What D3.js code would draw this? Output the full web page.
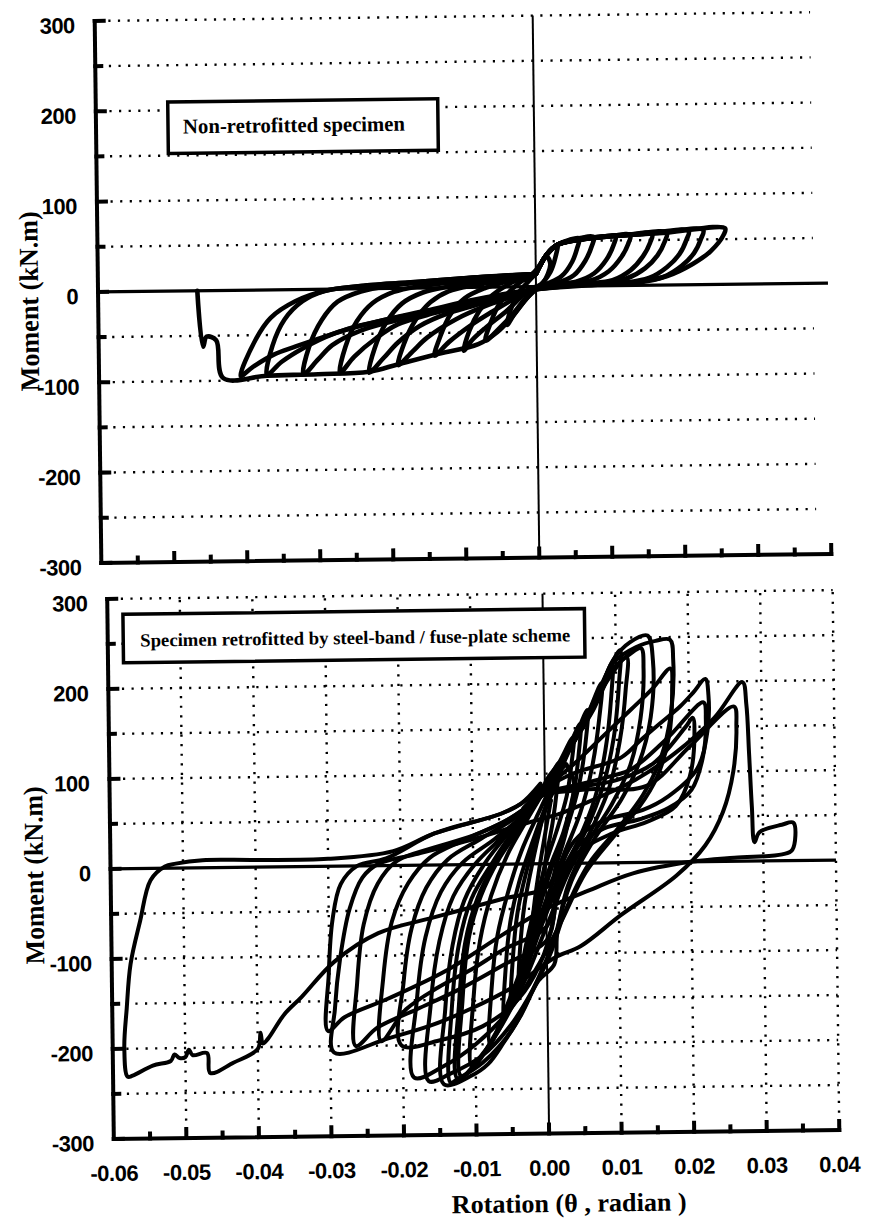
<!DOCTYPE html>
<html><head><meta charset="utf-8">
<script src="https://cdn.jsdelivr.net/npm/d3@7"></script>
<style>html,body{margin:0;padding:0;background:#fff}</style>
</head><body>
<svg id="c" width="870" height="1226" xmlns="http://www.w3.org/2000/svg"></svg>
<script>
// ---------- axis / label data ----------
const yTickValues = [300, 200, 100, 0, -100, -200, -300];
const yTickLabels = ["300", "200", "100", "0", "-100", "-200", "-300"];
const yMinorTicks = [250, 150, 50, -50, -150, -250];
const yGridValues = [300, 250, 200, 150, 100, 50, -50, -100, -150, -200, -250];
const xTickValues = [-0.06, -0.05, -0.04, -0.03, -0.02, -0.01, 0, 0.01, 0.02, 0.03, 0.04];
const xTickLabels = ["-0.06", "-0.05", "-0.04", "-0.03", "-0.02", "-0.01", "0.00", "0.01", "0.02", "0.03", "0.04"];
const xMinorTicks = [-0.055, -0.045, -0.035, -0.025, -0.015, -0.005, 0.005, 0.015, 0.025, 0.035];
const xGridValues = [-0.05, -0.04, -0.03, -0.02, -0.01, 0.01, 0.02, 0.03, 0.04];
const topTitle = "Non-retrofitted specimen";
const bottomTitle = "Specimen retrofitted by steel-band / fuse-plate scheme";
const yAxisTitle = "Moment (kN.m)";
const xAxisTitle = "Rotation (\u03B8 , radian )";

// ---------- data: [rotation (rad), moment (kN.m)] ----------
const nonRetrofittedLoops = [
 [[-0.0015,8],[0,18],[0.0015,35],[0.003,46],[0.0027,32],[0.002,16],[0.001,5],[0,-2],[-0.0015,-15],[-0.003,-30],[-0.004,-42],[-0.0035,-25],[-0.0025,-8],[-0.001,6],[0,14]],
 [[0,14],[0.0015,35],[0.003,46],[0.0045,51],[0.006,53],[0.0057,42],[0.005,27],[0.0035,11],[0.0015,3],[0,-2],[-0.0015,-13],[-0.003,-28],[-0.005,-45],[-0.007,-59],[-0.0062,-38],[-0.005,-18],[-0.0035,-4],[-0.002,6],[0,14]],
 [[0,14],[0.0015,35],[0.003,46],[0.0055,52],[0.008,54],[0.0077,44],[0.0068,28],[0.0052,12],[0.003,4],[0,0],[-0.002,-11],[-0.004,-26],[-0.007,-45],[-0.0088,-58],[-0.01,-70],[-0.0092,-48],[-0.0078,-26],[-0.006,-9],[-0.004,2],[-0.002,9],[0,14]],
 [[0,14],[0.0015,35],[0.003,46],[0.006,52.5],[0.009,54],[0.011,55],[0.0107,45],[0.0097,29],[0.008,14],[0.0055,5],[0.002,2],[-0.001,-4],[-0.003,-13],[-0.006,-27],[-0.009,-42],[-0.012,-60],[-0.014,-75],[-0.0132,-54],[-0.0118,-30],[-0.0098,-12],[-0.007,-1],[-0.004,6],[0,14]],
 [[0,14],[0.0015,35],[0.003,46],[0.007,53],[0.01,54.5],[0.013,56],[0.0127,46],[0.0117,31],[0.01,16],[0.0075,6],[0.004,3],[0,-1],[-0.003,-10],[-0.007,-21],[-0.011,-35],[-0.015,-55],[-0.017,-70],[-0.019,-85],[-0.0182,-62],[-0.0166,-36],[-0.0145,-16],[-0.012,-4],[-0.008,3],[-0.004,8],[0,14]],
 [[0,14],[0.0015,35],[0.003,46],[0.008,53.5],[0.012,55.5],[0.016,57],[0.0157,47],[0.0147,32],[0.013,17],[0.0105,6],[0.007,3],[0.002,1],[-0.002,-6],[-0.007,-17],[-0.012,-28],[-0.016,-42],[-0.019,-60],[-0.021,-77],[-0.023,-93],[-0.0222,-66],[-0.0206,-38],[-0.0184,-17],[-0.0155,-5],[-0.012,1],[-0.007,6],[-0.003,11],[0,14]],
 [[0,14],[0.0015,35],[0.003,46],[0.008,53.5],[0.013,56],[0.018,58],[0.0177,48],[0.0167,33],[0.015,19],[0.0125,8],[0.009,3],[0.003,1],[-0.002,-6],[-0.008,-17],[-0.014,-28],[-0.019,-40],[-0.022,-55],[-0.025,-75],[-0.027,-93],[-0.0262,-64],[-0.0246,-36],[-0.0224,-16],[-0.0195,-4],[-0.016,2],[-0.01,7],[-0.005,11],[0,14]],
 [[0,14],[0.0015,35],[0.003,46],[0.009,54],[0.015,57],[0.021,59.5],[0.0207,50],[0.0197,34],[0.018,20],[0.0155,8],[0.012,3],[0.006,1],[0,-3],[-0.006,-12],[-0.013,-24],[-0.019,-35],[-0.024,-46],[-0.028,-62],[-0.03,-78],[-0.032,-94],[-0.0312,-64],[-0.0294,-34],[-0.0272,-14],[-0.024,-3],[-0.02,3],[-0.013,8],[-0.006,12],[0,14]],
 [[0,14],[0.0015,35],[0.003,46],[0.01,54.5],[0.017,58],[0.023,60.5],[0.0227,51],[0.0217,35],[0.02,21],[0.0175,9],[0.014,3],[0.008,1],[0,-3],[-0.008,-13],[-0.015,-25],[-0.022,-37],[-0.028,-50],[-0.032,-65],[-0.035,-80],[-0.037,-94],[-0.0362,-62],[-0.0345,-33],[-0.032,-13],[-0.029,-2],[-0.024,3],[-0.016,7],[-0.008,11],[0,14]],
 [[0,14],[0.0015,35],[0.003,46],[0.01,54.5],[0.018,58],[0.026,62],[0.0258,55],[0.024,37],[0.0215,23],[0.018,10],[0.014,4],[0.008,2],[0,-3],[-0.0105,-19],[-0.015,-27],[-0.0196,-33],[-0.0243,-41],[-0.0288,-52],[-0.033,-63],[-0.0361,-72],[-0.0389,-85],[-0.0406,-95],[-0.0385,-55],[-0.0364,-31],[-0.033,-13],[-0.029,-2],[-0.024,3],[-0.016,7],[-0.008,11],[0,14]],
 [[0,14],[0.0015,33],[0.002,25],[0.001,4],[0,-3],[-0.0012,-12],[-0.0033,-33],[-0.0054,-50],[-0.008,-63],[-0.014,-74],[-0.019,-84],[-0.023,-92],[-0.03,-94],[-0.037,-95],[-0.043,-97],[-0.0439,-55],[-0.0452,-51],[-0.0457,-62],[-0.0464,0]]
];

const retrofittedLoops = [
 [[-0.003,62],[0,88],[0.001,100],[0.002,112],[0.0017,85],[0.001,45],[0,5],[-0.001,-40],[-0.002,-90],[-0.0018,-55],[-0.001,-10],[0,35],[0.0008,70]],
 [[0.0008,70],[0,88],[0.002,112],[0.004,140],[0.0037,110],[0.003,75],[0.0015,35],[0,0],[-0.0015,-45],[-0.003,-95],[-0.004,-140],[-0.0037,-95],[-0.003,-45],[-0.002,-5],[-0.001,30],[0,60],[0.0015,85]],
 [[0.0015,85],[0.003,120],[0.004,140],[0.005,155],[0.0047,120],[0.004,80],[0.0025,35],[0.0005,-5],[-0.0015,-55],[-0.0035,-115],[-0.005,-155],[-0.0047,-105],[-0.004,-55],[-0.0028,-12],[-0.0012,30],[0.0005,70]],
 [[0.0005,70],[0.003,120],[0.0045,145],[0.006,170],[0.0057,135],[0.0048,90],[0.0032,45],[0.001,0],[-0.001,-50],[-0.003,-105],[-0.005,-150],[-0.006,-170],[-0.0057,-115],[-0.005,-65],[-0.0037,-20],[-0.002,20],[0,62],[0.002,100]],
 [[0.002,100],[0.004,135],[0.006,165],[0.008,200],[0.0076,160],[0.0065,105],[0.0048,55],[0.0025,10],[0,-40],[-0.003,-105],[-0.006,-165],[-0.008,-200],[-0.0077,-140],[-0.0068,-80],[-0.0052,-30],[-0.0033,15],[-0.001,55],[0.0005,80]],
 [[0.0005,80],[0.003,120],[0.006,160],[0.0082,200],[0.0095,222],[0.0093,185],[0.0084,125],[0.0068,70],[0.0045,25],[0.0015,-20],[-0.001,-70],[-0.004,-135],[-0.007,-185],[-0.0105,-225],[-0.0102,-150],[-0.0092,-85],[-0.0076,-35],[-0.0053,10],[-0.0028,45],[0,82]],
 [[0,82],[0.003,122],[0.006,165],[0.009,215],[0.0106,236],[0.0104,200],[0.0096,140],[0.008,85],[0.0055,35],[0.0025,-10],[-0.0005,-65],[-0.004,-140],[-0.008,-200],[-0.012,-235],[-0.0117,-150],[-0.0107,-80],[-0.009,-35],[-0.0065,5],[-0.0035,40],[0,83]],
 [[0,83],[0.003,120],[0.006,162],[0.009,205],[0.0115,228],[0.0113,192],[0.0104,135],[0.0088,82],[0.0062,35],[0.003,-12],[0,-70],[-0.004,-145],[-0.0085,-205],[-0.0125,-238],[-0.0122,-155],[-0.0112,-85],[-0.0095,-38],[-0.007,2],[-0.004,38],[0,83]],
 [[0,83],[0.003,122],[0.0068,172],[0.0096,225],[0.012,245],[0.0144,252],[0.0151,225],[0.0147,161],[0.013,110],[0.0105,70],[0.007,30],[0.0035,-20],[0.0015,-75],[0.001,-112],[-0.0012,-130],[-0.0036,-167],[-0.006,-197],[-0.0083,-222],[-0.0107,-235],[-0.0144,-244],[-0.0141,-160],[-0.013,-90],[-0.0113,-40],[-0.0085,0],[-0.005,35],[-0.002,60],[0,84]],
 [[0,84],[0.003,122],[0.0068,170],[0.0096,215],[0.012,232],[0.0135,238],[0.0138,215],[0.0133,160],[0.0118,108],[0.0092,65],[0.006,25],[0.003,-25],[0.001,-85],[-0.002,-140],[-0.005,-185],[-0.009,-220],[-0.0125,-238],[-0.0135,-242],[-0.0132,-160],[-0.0121,-88],[-0.0103,-38],[-0.0075,0],[-0.0045,35],[-0.002,58],[0,84]],
 [[0,84],[0.003,123],[0.0068,172],[0.0096,222],[0.013,240],[0.0155,246],[0.0175,247],[0.0179,225],[0.0175,165],[0.016,115],[0.0135,75],[0.01,38],[0.006,0],[0.0025,-55],[0.0005,-100],[-0.002,-140],[-0.005,-178],[-0.009,-212],[-0.0135,-232],[-0.0165,-240],[-0.0161,-155],[-0.0148,-85],[-0.0128,-35],[-0.0098,0],[-0.006,30],[-0.003,55],[0,84]],
 [[0,84],[0.004,110],[0.008,140],[0.012,170],[0.015,193],[0.0175,215],[0.0177,190],[0.0172,140],[0.0155,95],[0.013,62],[0.0095,30],[0.0055,-10],[0.002,-65],[-0.001,-110],[-0.005,-160],[-0.01,-200],[-0.0145,-224],[-0.0185,-236],[-0.018,-150],[-0.0167,-80],[-0.0145,-30],[-0.0115,2],[-0.007,28],[-0.003,55],[0,84]],
 [[0,84],[0.004,100],[0.0106,117],[0.0133,136],[0.0161,155],[0.0188,173],[0.0206,188],[0.0223,203],[0.0227,185],[0.0225,145],[0.021,103],[0.017,73],[0.0134,58],[0.008,47],[0.004,25],[0.0015,-20],[0.001,-60],[-0.001,-112],[-0.004,-150],[-0.009,-180],[-0.015,-195],[-0.0202,-200],[-0.0198,-130],[-0.0186,-70],[-0.0165,-25],[-0.0135,6],[-0.009,28],[-0.004,52],[0,80]],
 [[0,80],[0.005,88],[0.009,96],[0.012,104],[0.017,138],[0.022,177],[0.0223,158],[0.0218,115],[0.0202,80],[0.017,60],[0.013,48],[0.008,38],[0.004,15],[0.0015,-35],[0,-70],[-0.006,-95],[-0.0105,-117],[-0.015,-136],[-0.0195,-160],[-0.023,-195],[-0.0226,-125],[-0.0213,-62],[-0.019,-20],[-0.016,8],[-0.011,28],[-0.005,50],[0,78]],
 [[0,78],[0.005,85],[0.01,92],[0.015,110],[0.0195,150],[0.0205,160],[0.0207,140],[0.02,95],[0.018,62],[0.014,45],[0.009,32],[0.004,8],[0.0015,-40],[0,-85],[-0.006,-112],[-0.012,-138],[-0.018,-160],[-0.0235,-180],[-0.0265,-200],[-0.0262,-130],[-0.0252,-65],[-0.0232,-20],[-0.0205,5],[-0.016,18],[-0.01,32],[-0.005,50],[0,78]],
 [[0,78],[0.006,82],[0.014,85],[0.02,128],[0.0262,172],[0.0265,150],[0.026,100],[0.0245,55],[0.022,18],[0.018,-15],[0.0103,-58],[0.0047,-92],[0.001,-105],[-0.005,-138],[-0.0105,-160],[-0.016,-178],[-0.022,-192],[-0.0295,-207],[-0.0293,-158],[-0.0285,-102],[-0.0271,-47],[-0.0253,-13],[-0.0231,2],[-0.018,12],[-0.01,28],[-0.004,42],[0.002,55]],
 [[0.002,55],[0.0125,92],[0.018,121],[0.0235,160],[0.0274,199],[0.0279,175],[0.0282,120],[0.0285,60],[0.0288,21],[0.0295,32],[0.0326,40],[0.0342,42],[0.034,12],[0.0326,7],[0.026,4],[0.02,0],[0.012,-12],[0.006,-30],[0,-50],[-0.006,-78],[-0.014,-118],[-0.022,-148],[-0.028,-168],[-0.0303,-183],[-0.0301,-120],[-0.0295,-60],[-0.0283,-20],[-0.026,0],[-0.022,8],[-0.0153,35],[-0.0061,56],[-0.0033,67],[0,88],[0.003,110]],
 [[0.003,110],[0.004,90],[0.003,40],[0.0015,0],[0.0003,-25],[-0.0062,-39],[-0.0154,-58],[-0.0232,-75],[-0.0293,-106],[-0.0339,-145],[-0.0363,-164],[-0.0386,-191],[-0.0393,-196],[-0.0396,-184],[-0.04,-202],[-0.0434,-217],[-0.0466,-228],[-0.047,-206],[-0.049,-208],[-0.0495,-202],[-0.05,-210],[-0.0508,-211],[-0.0515,-207],[-0.052,-214],[-0.0545,-219],[-0.0573,-230],[-0.058,-231],[-0.0584,-199],[-0.058,-155],[-0.0574,-106],[-0.056,-58],[-0.0545,-13],[-0.0525,2],[-0.051,5],[-0.0473,8.5],[-0.04,8],[-0.03,8.3],[-0.021,16],[-0.0153,35],[-0.0061,56],[-0.0033,67],[-0.0006,89]]
];

// ---------- drawing ----------
const svg = d3.select("#c");
const serif = "'Liberation Serif','Times New Roman',serif";
const sans = "'Liberation Sans',Arial,sans-serif";

function drawPanel(cfg) {
  const x = d3.scaleLinear().domain([-0.06, 0.04]).range(cfg.xr);
  const y = d3.scaleLinear().domain([-300, 300]).range(cfg.yr);
  const g = svg.append("g").attr("transform", `rotate(-0.7 ${cfg.cx} ${cfg.cy})`);
  const x0 = x(-0.06), x1 = x(0.04), yT = y(300), yB = y(-300);
  const dot = sel => sel.attr("stroke", "#000").attr("stroke-width", 2.4).attr("stroke-dasharray", "2.2 7.4").attr("fill", "none");

  // dotted grid
  g.selectAll(null).data(yGridValues).join("line")
    .attr("x1", x0 + 4).attr("x2", x(cfg.gridEnd)).attr("y1", d => y(d)).attr("y2", d => y(d)).call(dot);
  if (cfg.vgrid) {
    g.selectAll(null).data(xGridValues).join("line")
      .attr("x1", d => x(d)).attr("x2", d => x(d)).attr("y1", yT + 2).attr("y2", yB - 2).call(dot);
  }
  // zero lines
  g.append("line").attr("x1", x(0)).attr("x2", x(0)).attr("y1", yT).attr("y2", yB)
    .attr("stroke", "#000").attr("stroke-width", 2);
  g.append("line").attr("x1", x0).attr("x2", x1).attr("y1", y(0)).attr("y2", y(0))
    .attr("stroke", "#000").attr("stroke-width", 3.2);

  // hysteresis curves
  const line = d3.line().x(d => x(d[0])).y(d => y(d[1])).curve(d3.curveCatmullRom.alpha(0.5));
  g.selectAll(null).data(cfg.loops).join("path")
    .attr("d", line).attr("fill", "none").attr("stroke", "#000")
    .attr("stroke-width", cfg.lw).attr("stroke-linejoin", "round").attr("stroke-linecap", "round");

  // axes
  const ax = g.append("g").attr("stroke", "#000").attr("stroke-width", 4).attr("stroke-linecap", "square");
  ax.append("line").attr("x1", x0).attr("x2", x0).attr("y1", yT).attr("y2", yB);
  ax.append("line").attr("x1", x0).attr("x2", x1).attr("y1", yB).attr("y2", yB);
  ax.selectAll(null).data(yTickValues).join("line")
    .attr("x1", x0).attr("x2", x0 + 9).attr("y1", d => y(d)).attr("y2", d => y(d));
  ax.selectAll(null).data(yMinorTicks).join("line")
    .attr("x1", x0).attr("x2", x0 + 6).attr("y1", d => y(d)).attr("y2", d => y(d));
  ax.selectAll(null).data(xTickValues.slice(1)).join("line")
    .attr("x1", d => x(d)).attr("x2", d => x(d)).attr("y1", yB).attr("y2", yB - 9);
  ax.selectAll(null).data(xMinorTicks).join("line")
    .attr("x1", d => x(d)).attr("x2", d => x(d)).attr("y1", yB).attr("y2", yB - 5);

  // y tick labels
  g.selectAll(null).data(yTickValues).join("text")
    .attr("x", x0 - 20).attr("y", d => y(d) + 12).attr("text-anchor", "end")
    .attr("font-family", sans).attr("font-weight", "bold").attr("font-size", 22)
    .attr("letter-spacing", -0.5)
    .text((d, i) => yTickLabels[i]);

  if (cfg.xlabels) {
    g.selectAll(null).data(xTickValues).join("text")
      .attr("x", d => x(d)).attr("y", yB + 42).attr("text-anchor", "middle")
      .attr("font-family", sans).attr("font-weight", "bold").attr("font-size", 22)
      .attr("letter-spacing", -0.5)
      .text((d, i) => xTickLabels[i]);
    g.append("text").attr("x", cfg.xTitle[0]).attr("y", cfg.xTitle[1]).attr("text-anchor", "middle")
      .attr("font-family", serif).attr("font-weight", "bold").attr("font-size", 26)
      .attr("textLength", 235).attr("lengthAdjust", "spacingAndGlyphs").text(xAxisTitle);
  }

  // y title
  g.append("text").attr("transform", `translate(${cfg.yTitle[0]},${cfg.yTitle[1]}) rotate(-90)`)
    .attr("text-anchor", "middle").attr("font-family", serif).attr("font-weight", "bold")
    .attr("font-size", 27).attr("textLength", cfg.yTitle[2]).attr("lengthAdjust", "spacingAndGlyphs")
    .text(yAxisTitle);

  // legend box
  const b = cfg.box;
  g.append("rect").attr("x", b[0]).attr("y", b[1]).attr("width", b[2] - b[0]).attr("height", b[3] - b[1])
    .attr("fill", "#fff").attr("stroke", "#000").attr("stroke-width", 3.5);
  g.append("text").attr("x", cfg.boxText[0]).attr("y", cfg.boxText[1])
    .attr("font-family", serif).attr("font-weight", "bold").attr("font-size", cfg.boxText[3])
    .attr("textLength", cfg.boxText[2]).attr("lengthAdjust", "spacingAndGlyphs").text(cfg.title);
}

drawPanel({
  xr: [98, 828], yr: [558.5, 16.5], cx: 463, cy: 287.5,
  loops: nonRetrofittedLoops, lw: 4.6, gridEnd: 0.038, vgrid: false, xlabels: false,
  yTitle: [38, 296, 180],
  box: [170, 98.5, 440, 150], boxText: [185, 130, 222, 21], title: topTitle
});
drawPanel({
  xr: [110.5, 836], yr: [1134.5, 594.5], cx: 473, cy: 864.5,
  loops: retrofittedLoops, lw: 4, gridEnd: 0.04, vgrid: true, xlabels: true,
  xTitle: [565, 1213],
  yTitle: [43, 870, 178],
  box: [126, 610, 587.5, 658.5], boxText: [143, 642.5, 430, 18.5], title: bottomTitle
});
</script>
</body></html>
